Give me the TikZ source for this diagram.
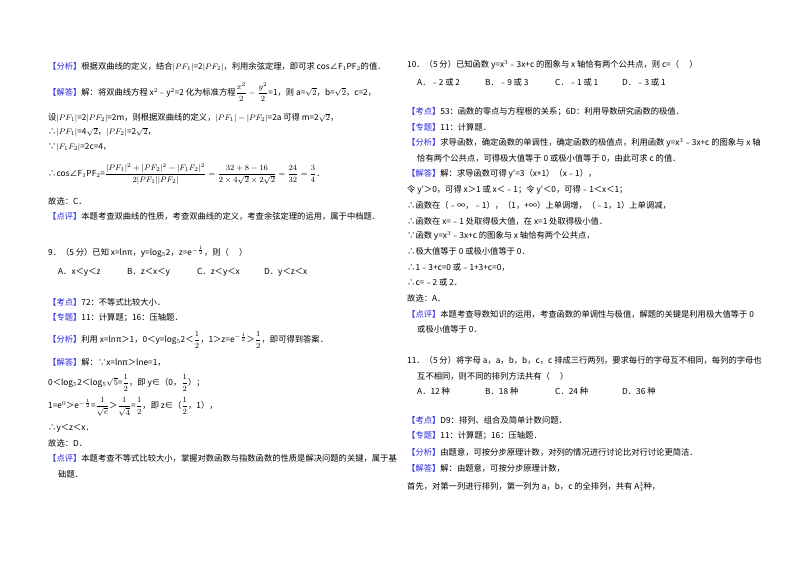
\documentclass[tikz,border=0pt]{standalone}
\usepackage{fontspec}
\usepackage{amsmath}
\setmainfont{Noto Sans CJK SC}
\definecolor{lab}{RGB}{40,40,220}
\newcommand{\lb}[1]{\textcolor{lab}{【#1】}}
\begin{document}
\begin{tikzpicture}[x=1pt,y=-1pt,ln/.style={anchor=west,inner sep=0pt,font=\fontsize{8.3}{10}\selectfont}]
\fill[white] (0,0) rectangle (800,565);
% left column
\node[ln] (l1) at (48,67) {\lb{分析}根据双曲线的定义，结合$|PF_1|$=2$|PF_2|$，利用余弦定理，即可求 cos∠F$_1$PF$_2$的值．};
\node[ln] (l2) at (48,92) {\lb{解答}解：将双曲线方程 x$^2$﹣y$^2$=2 化为标准方程$\dfrac{x^2}{2}-\dfrac{y^2}{2}$=1，则 a=$\sqrt2$，b=$\sqrt2$，c=2，};
\node[ln] (l3) at (48,118) {设$|PF_1|$=2$|PF_2|$=2m，则根据双曲线的定义，$|PF_1|-|PF_2|$=2a 可得 m=2$\sqrt2$，};
\node[ln] (l4) at (48,132) {∴$|PF_1|$=4$\sqrt2$，$|PF_2|$=2$\sqrt2$，};
\node[ln] (l5) at (48,147) {∵$|F_1F_2|$=2c=4，};
\node[ln] (l6) at (48,174) {∴cos∠F$_1$PF$_2$=$\dfrac{|PF_1|^2+|PF_2|^2-|F_1F_2|^2}{2|PF_1||PF_2|}=\dfrac{32+8-16}{2\times4\sqrt2\times2\sqrt2}=\dfrac{24}{32}=\dfrac34$．};
\node[ln] (l7) at (48,201) {故选：C．};
\node[ln] (l8) at (48,216) {\lb{点评}本题考查双曲线的性质，考查双曲线的定义，考查余弦定理的运用，属于中档题．};
\node[ln] (q9) at (48,252) {9．（5 分）已知 x=lnπ，y=log$_5$2，z=e$^{-\frac12}$，则（\quad\ ）};
\node[ln] (a9) at (58,272) {A．x＜y＜z};
\node[ln] (b9) at (127,272) {B．z＜x＜y};
\node[ln] (c9) at (197,272) {C．z＜y＜x};
\node[ln] (d9) at (264,272) {D．y＜z＜x};
\node[ln] (k9) at (48,302) {\lb{考点}72：不等式比较大小．};
\node[ln] (z9) at (48,318) {\lb{专题}11：计算题；16：压轴题．};
\node[ln] (f9) at (48,340) {\lb{分析}利用 x=lnπ＞1，0＜y=log$_5$2＜$\dfrac12$，1＞z=e$^{-\frac12}$＞$\dfrac12$，即可得到答案．};
\node[ln] (j9) at (48,362) {\lb{解答}解：∵x=lnπ＞lne=1，};
\node[ln] (m1) at (48,383) {0＜log$_5$2＜log$_5\sqrt5$=$\dfrac12$，即 y∈（0，$\dfrac12$）；};
\node[ln] (m2) at (48,407) {1=e$^0$＞e$^{-\frac12}$=$\dfrac{1}{\sqrt e}$＞$\dfrac{1}{\sqrt4}$=$\dfrac12$，即 z∈（$\dfrac12$，1），};
\node[ln] (m3) at (48,428) {∴y＜z＜x．};
\node[ln] (m4) at (48,443) {故选：D．};
\node[ln] (m5) at (48,458) {\lb{点评}本题考查不等式比较大小，掌握对数函数与指数函数的性质是解决问题的关键，属于基};
\node[ln] (m6) at (58,474) {础题．};
% right column
\node[ln] (q10) at (407,65) {10．（5 分）已知函数 y=x$^3$﹣3x+c 的图象与 x 轴恰有两个公共点，则 c=（\quad\ ）};
\node[ln] (a10) at (417,82) {A．﹣2 或 2};
\node[ln] (b10) at (485,82) {B．﹣9 或 3};
\node[ln] (c10) at (555,82) {C．﹣1 或 1};
\node[ln] (d10) at (622,82) {D．﹣3 或 1};
\node[ln] (r1) at (407,112) {\lb{考点}53：函数的零点与方程根的关系；6D：利用导数研究函数的极值．};
\node[ln] (r2) at (407,127) {\lb{专题}11：计算题．};
\node[ln] (r3) at (407,143) {\lb{分析}求导函数，确定函数的单调性，确定函数的极值点，利用函数 y=x$^3$﹣3x+c 的图象与 x 轴};
\node[ln] (r4) at (417,158) {恰有两个公共点，可得极大值等于 0 或极小值等于 0，由此可求 c 的值．};
\node[ln] (r5) at (407,174) {\lb{解答}解：求导函数可得 y′=3（x+1）（x﹣1），};
\node[ln] (r6) at (407,190) {令 y′＞0，可得 x＞1 或 x＜﹣1；令 y′＜0，可得﹣1＜x＜1；};
\node[ln] (r7) at (407,205) {∴函数在（﹣∞，﹣1），（1，+∞）上单调增，（﹣1，1）上单调减，};
\node[ln] (r8) at (407,221) {∴函数在 x=﹣1 处取得极大值，在 x=1 处取得极小值．};
\node[ln] (r9) at (407,236) {∵函数 y=x$^3$﹣3x+c 的图象与 x 轴恰有两个公共点，};
\node[ln] (r10) at (407,251) {∴极大值等于 0 或极小值等于 0．};
\node[ln] (r11) at (407,267) {∴1﹣3+c=0 或﹣1+3+c=0，};
\node[ln] (r12) at (407,282) {∴c=﹣2 或 2．};
\node[ln] (r13) at (407,298) {故选：A．};
\node[ln] (r14) at (407,314) {\lb{点评}本题考查导数知识的运用，考查函数的单调性与极值，解题的关键是利用极大值等于 0};
\node[ln] (r15) at (417,329) {或极小值等于 0．};
\node[ln] (q11) at (407,360) {11．（5 分）将字母 a，a，b，b，c，c 排成三行两列，要求每行的字母互不相同，每列的字母也};
\node[ln] (q11b) at (417,376) {互不相同，则不同的排列方法共有（\quad\ ）};
\node[ln] (a11) at (417,391) {A．12 种};
\node[ln] (b11) at (485,391) {B．18 种};
\node[ln] (c11) at (555,391) {C．24 种};
\node[ln] (d11) at (622,391) {D．36 种};
\node[ln] (s1) at (407,420) {\lb{考点}D9：排列、组合及简单计数问题．};
\node[ln] (s2) at (407,436) {\lb{专题}11：计算题；16：压轴题．};
\node[ln] (s3) at (407,452) {\lb{分析}由题意，可按分步原理计数，对列的情况进行讨论比对行讨论更简洁．};
\node[ln] (s4) at (407,468) {\lb{解答}解：由题意，可按分步原理计数，};
\node[ln] (s5) at (407,487) {首先，对第一列进行排列，第一列为 a，b，c 的全排列，共有 A$_3^3$种，};
\end{tikzpicture}
\end{document}
